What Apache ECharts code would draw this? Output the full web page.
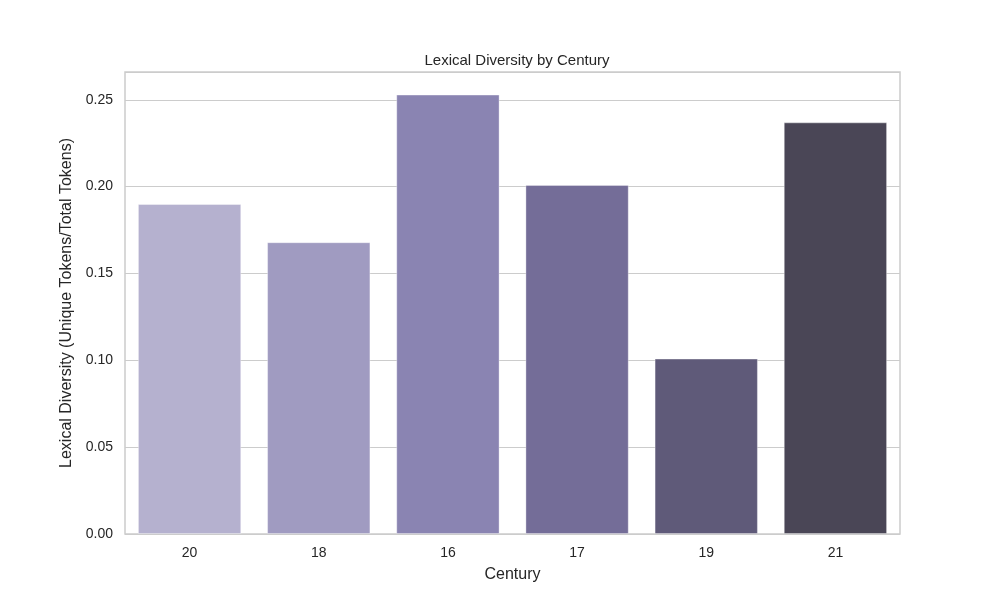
<!DOCTYPE html>
<html>
<head>
<meta charset="utf-8">
<script src="https://cdn.jsdelivr.net/npm/echarts@6/dist/echarts.min.js"></script>
<style>
  html, body { margin: 0; padding: 0; background: #fff; }
  #chart { width: 1000px; height: 600px; }
</style>
</head>
<body>
<div id="chart"></div>
<script>
// data
const centuries = ['20', '18', '16', '17', '19', '21'];
const diversity = [0.190, 0.168, 0.253, 0.201, 0.101, 0.237];
const barColors = ['#b5b1cf', '#a09bc1', '#8a84b2', '#746d98', '#5f5a79', '#4a4656'];

const font = 'Liberation Sans, Arial, sans-serif';
const chart = echarts.init(document.getElementById('chart'));

chart.setOption({
    animation: false,
    title: {
        text: 'Lexical Diversity by Century',
        left: 512, top: 48, textAlign: 'center',
        textStyle: { fontFamily: font, fontSize: 15, fontWeight: 'normal', color: '#262626' }
    },
    grid: { left: 125, right: 100, top: 72, bottom: 66, show: true, borderColor: '#cccccc', borderWidth: 1.5 },
    xAxis: {
        type: 'category',
        data: centuries,
        name: 'Century',
        nameLocation: 'middle',
        nameGap: 33,
        nameTextStyle: { fontFamily: font, fontSize: 16, color: '#262626' },
        axisLine: { show: false },
        axisTick: { show: false },
        axisLabel: { fontFamily: font, fontSize: 14, color: '#262626', margin: 12 },
        splitLine: { show: false }
    },
    yAxis: {
        type: 'value',
        min: 0, max: 0.266, interval: 0.05,
        name: 'Lexical Diversity (Unique Tokens/Total Tokens)',
        nameLocation: 'middle',
        nameGap: 49,
        nameTextStyle: { fontFamily: font, fontSize: 16, color: '#262626' },
        axisLine: { show: false },
        axisTick: { show: false },
        axisLabel: { fontFamily: font, fontSize: 14, color: '#262626', margin: 12, showMaxLabel: false,
            formatter: v => v.toFixed(2) },
        splitLine: { lineStyle: { color: '#cccccc', width: 1.2 } }
    },
    series: [{
        type: 'bar',
        barCategoryGap: '20%',
        data: diversity.map((v, i) => ({ value: v, itemStyle: { color: barColors[i] } })),
        itemStyle: { borderColor: 'rgba(255,255,255,0.35)', borderWidth: 1 }
    }]
});
</script>
</body>
</html>
